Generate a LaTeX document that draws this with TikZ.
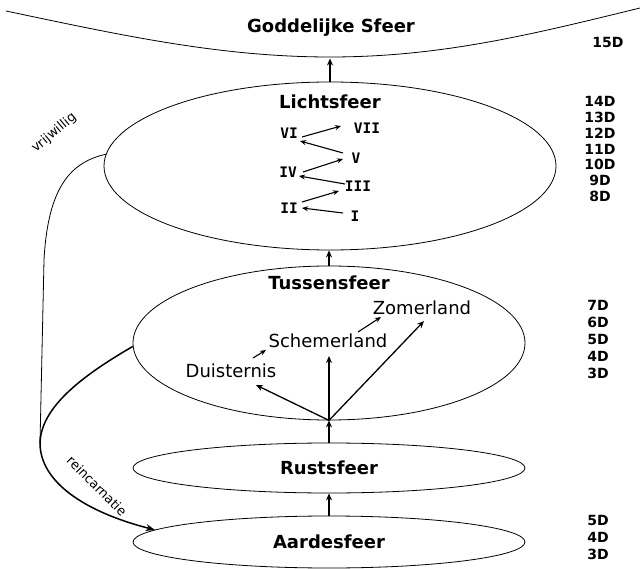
\documentclass[tikz,border=0pt]{standalone}
\usepackage{fontspec}
\setmainfont{DejaVu Sans}
\newfontfamily\numfont{DejaVu Sans Mono}
\usetikzlibrary{shapes.geometric,arrows.meta}
\begin{document}
\begin{tikzpicture}[x=1pt,y=-1pt,
  sphere/.style={draw, ellipse, line width=0.8pt, inner sep=0pt, minimum width=392pt},
  title/.style={font=\fontsize{18}{20}\selectfont\bfseries, inner sep=0pt},
  land/.style={font=\fontsize{18}{20}\selectfont, inner sep=0pt},
  roman/.style={font=\fontsize{14.5}{16}\selectfont\numfont\bfseries, inner sep=0pt},
  dim/.style={font=\fontsize{14}{15.5}\selectfont\bfseries, align=center, inner sep=0pt},
  arr/.style={-{Stealth[length=7pt,width=6pt]}, line width=1.3pt},
  smallarr/.style={-{Stealth[length=6pt,width=5pt]}, line width=1.1pt},
  side/.style={font=\fontsize{13}{15}\selectfont, inner sep=0pt}]
\useasboundingbox (0,0) rectangle (640,569);

% spheres
\node[sphere, minimum width=452pt, minimum height=168pt] (L) at (330,166) {};
\node[sphere, minimum height=154pt] (T) at (329,343) {};
\node[sphere, minimum height=50pt] (R) at (329,468) {};
\node[sphere, minimum height=52pt] (A) at (329,542) {};

% divine sphere boundary
\draw[line width=0.8pt] (6,11) .. controls (120,35) and (220,57) .. (330,57)
  .. controls (440,57) and (530,35) .. (640,8);
\coordinate (Gb) at (330,58.5);

% titles
\node[title] (tG) at (331,28) {Goddelijke Sfeer};
\node[title] (tL) at (330,102) {Lichtsfeer};
\node[title] (tT) at (329,283) {Tussensfeer};
\node[title] (tR) at (329,468) {Rustsfeer};
\node[title] (tA) at (329,542) {Aardesfeer};

% arrows between spheres
\draw[arr] (L.north) -- (Gb);
\draw[arr] (T.north) -- (T.north |- L.south);
\draw[arr] (R.north) -- (T.south);
\draw[arr] (A.north) -- (R.south);

% roman numerals
\node[roman] (n1) at (355,216) {I};
\node[roman] (n2) at (289,208) {II};
\node[roman] (n3) at (358,186) {III};
\node[roman] (n4) at (288,172) {IV};
\node[roman] (n5) at (356,158) {V};
\node[roman] (n6) at (289,133) {VI};
\node[roman] (n7) at (367,128) {VII};
\draw[smallarr] ([shift={(-12,-3)}]n1.center) -- ([shift={(13,0)}]n2.center);
\draw[smallarr] ([shift={(13,-6)}]n2.center) -- ([shift={(-19,5)}]n3.center);
\draw[smallarr] ([shift={(-13,-2)}]n3.center) -- ([shift={(11,4)}]n4.center);
\draw[smallarr] ([shift={(15,0)}]n4.center) -- ([shift={(-13,1)}]n5.center);
\draw[smallarr] ([shift={(-13,-5)}]n5.center) -- ([shift={(11,8)}]n6.center);
\draw[smallarr] ([shift={(13,4)}]n6.center) -- ([shift={(-26,-2)}]n7.center);

% lands in Tussensfeer
\node[land] (du) at (231,371) {Duisternis};
\node[land] (sc) at (328,341) {Schemerland};
\node[land] (zo) at (422,308) {Zomerland};
\coordinate (fan) at (T.south);
\draw[arr] (fan) -- (256,385);
\draw[arr] (fan) -- (329,356);
\draw[arr] (fan) -- (424,321);
\draw[smallarr] ([shift={(22,-13)}]du.center) -- ([shift={(-62,9)}]sc.center);
\draw[smallarr] ([shift={(30,-9)}]sc.center) -- ([shift={(-41,9)}]zo.center);

% side paths
\draw[line width=0.8pt] (L.177) .. controls (72,162) and (48,185) .. (44,260) -- (40,443);
\draw[line width=1.5pt, -{Stealth[length=9pt,width=7pt]}] (T.181) .. controls (80,377) and (41,408) .. (40,443)
  .. controls (40,482) and (85,512) .. (A.176);
\node[side, rotate=40] (vw) at (54,133) {vrijwillig};
\node[side, rotate=-45] (rc) at (97,486) {reincarnatie};

% dimensions
\node[dim] (d15) at (608,42) {15D};
\node[dim, font=\fontsize{14}{15.7}\selectfont\bfseries] (dU) at (600,149) {14D\\13D\\12D\\11D\\10D\\9D\\8D};
\node[dim, font=\fontsize{14}{17}\selectfont\bfseries] (dM) at (598,339) {7D\\6D\\5D\\4D\\3D};
\node[dim, font=\fontsize{14}{17}\selectfont\bfseries] (dB) at (598,537) {5D\\4D\\3D};
\end{tikzpicture}
\end{document}
